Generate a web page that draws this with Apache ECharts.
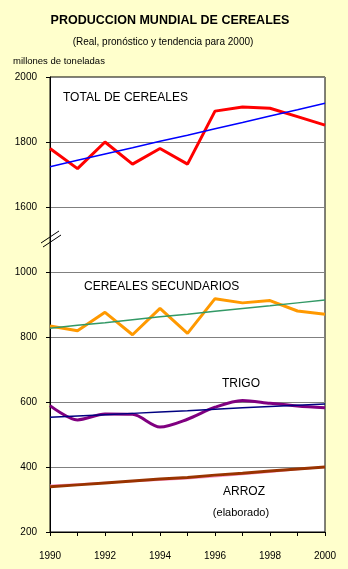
<!DOCTYPE html>
<html>
<head>
<meta charset="utf-8">
<script src="https://cdn.jsdelivr.net/npm/echarts@6/dist/echarts.min.js"></script>
<style>
  html, body { margin: 0; padding: 0; background: #FFFFCC; }
  #container { width: 348px; height: 569px; }
</style>
</head>
<body>
<div id="container"></div>
<script>
var years = [1990, 1991, 1992, 1993, 1994, 1995, 1996, 1997, 1998, 1999, 2000];

// millones de toneladas
var total      = [1780, 1718, 1800, 1732, 1780, 1732, 1895, 1908, 1904, 1878, 1852];
var totalTend  = [1724, 1744, 1763, 1782, 1802, 1821, 1841, 1860, 1880, 1899, 1919];
var secund     = [834, 819, 876, 807, 888, 811, 918, 905, 912, 880, 870];
var secundTend = [827, 836, 844, 853, 862, 870, 879, 888, 896, 905, 914];
var trigo      = [589, 545, 563, 562, 523, 547, 584, 605, 596, 588, 582];
var trigoTend  = [553, 557, 561, 565, 569, 573, 578, 582, 586, 590, 594];
var arroz      = [339, 345, 351, 357, 363, 368, 375, 381, 388, 394, 400];
var arrozTend  = [344, 348, 352, 355, 359, 364, 370, 377, 384, 392, 399];

var yTicks = [200, 400, 600, 800, 1000, 1600, 1800, 2000];
var xLabels = [1990, 1992, 1994, 1996, 1998, 2000];

// eje cortado entre 1000 y 1600
function cut(v) { return v > 1000 ? v - 400 : v; }
function pairs(vals) {
    return years.map(function (y, i) { return [y, cut(vals[i])]; });
}
function serie(name, vals, color, width, smooth, z) {
    return {
        name: name,
        type: 'line',
        data: pairs(vals),
        symbol: 'none',
        smooth: smooth,
        z: z,
        lineStyle: { color: color, width: width },
        animation: false
    };
}

var dom = document.getElementById('container');
var myChart = echarts.init(dom);
var font = 'Liberation Sans, Arial, sans-serif';

var option = {
    backgroundColor: '#FFFFCC',
    textStyle: { fontFamily: font },
    grid: {
        left: 50, right: 23, top: 77, bottom: 37,
        show: true, backgroundColor: '#FFFFFF', borderColor: '#000', borderWidth: 1
    },
    xAxis: [{
        type: 'value',
        min: 1990, max: 2000, interval: 1,
        axisLine: { lineStyle: { color: '#000' } },
        axisTick: { show: true, length: 4, lineStyle: { color: '#000' } },
        splitLine: { show: false },
        axisLabel: {
            color: '#000', fontSize: 10, fontFamily: font, margin: 19,
            formatter: function (v) { return xLabels.indexOf(v) >= 0 ? String(v) : ''; }
        }
    }],
    yAxis: [{
        type: 'value',
        min: 200, max: 1600, interval: 200,
        axisLine: { show: true, lineStyle: { color: '#000' } },
        axisTick: { show: true, length: 4, lineStyle: { color: '#000' } },
        splitLine: { show: true, lineStyle: { color: '#808080', width: 1 } },
        axisLabel: {
            color: '#000', fontSize: 10, fontFamily: font, margin: 13,
            formatter: function (v) { return String(yTicks[(v - 200) / 200]); }
        }
    }],
    series: [
        serie('Total', total, '#FF0000', 3, false, 2),
        serie('Total tendencia', totalTend, '#0000FF', 1.5, false, 3),
        serie('Secundarios', secund, '#FF9900', 3, false, 2),
        serie('Secundarios tendencia', secundTend, '#339966', 1.5, false, 3),
        serie('Trigo', trigo, '#800080', 3, 0.3, 2),
        serie('Trigo tendencia', trigoTend, '#000080', 1.5, false, 3),
        serie('Arroz tendencia', arrozTend, '#FF99CC', 1.5, false, 2),
        serie('Arroz', arroz, '#993300', 3, false, 3)
    ],
    graphic: [
        { type: 'text', x: 170, y: 21, style: { text: 'PRODUCCION MUNDIAL DE CEREALES', font: 'bold 12.5px ' + font, fill: '#000', align: 'center', verticalAlign: 'middle' } },
        { type: 'text', x: 163, y: 42, style: { text: '(Real, pronóstico y tendencia para 2000)', font: '10px ' + font, fill: '#000', align: 'center', verticalAlign: 'middle' } },
        { type: 'text', x: 13, y: 61, style: { text: 'millones de toneladas', font: '9.5px ' + font, fill: '#000', verticalAlign: 'middle' } },
        { type: 'text', x: 63, y: 98, z: 10, style: { text: 'TOTAL DE CEREALES', font: '12px ' + font, fill: '#000', verticalAlign: 'middle' } },
        { type: 'text', x: 84, y: 287, z: 10, style: { text: 'CEREALES SECUNDARIOS', font: '12px ' + font, fill: '#000', verticalAlign: 'middle' } },
        { type: 'text', x: 241, y: 384, z: 10, style: { text: 'TRIGO', font: '12px ' + font, fill: '#000', align: 'center', verticalAlign: 'middle' } },
        { type: 'text', x: 244, y: 492, z: 10, style: { text: 'ARROZ', font: '12px ' + font, fill: '#000', align: 'center', verticalAlign: 'middle' } },
        { type: 'text', x: 241, y: 513, z: 10, style: { text: '(elaborado)', font: '11px ' + font, fill: '#000', align: 'center', verticalAlign: 'middle' } },
        // marca de corte del eje
        { type: 'line', z: 10, shape: { x1: 41, y1: 243, x2: 59, y2: 231 }, style: { stroke: '#000', lineWidth: 1 } },
        { type: 'line', z: 10, shape: { x1: 43, y1: 247, x2: 61, y2: 235 }, style: { stroke: '#000', lineWidth: 1 } }
    ]
};

myChart.setOption(option);
window.onresize = function () { myChart.resize(); };
</script>
</body>
</html>
